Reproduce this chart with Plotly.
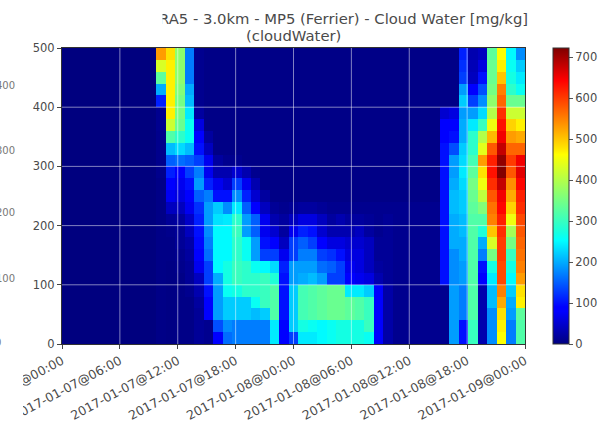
import plotly.graph_objects as go

# one list per hourly column, values from the lowest layer (0-20 m) to the highest (480-500 m)
c00 = [0]*25
c10 = [5,5,5,5,5,5,5,5,5,5,5,5,5,5,8,8,8,8,10,10,110,200,330,430,530]
c11 = [3,3,3,3,3,3,3,5,5,8,15,40,70,85,110,150,210,320,420,470,470,470,470,470,480]
c12 = [5,5,5,5,5,5,8,10,15,15,20,40,60,70,90,160,230,290,340,350,350,360,370,370,370]
c13 = [5,5,5,5,10,15,15,20,25,40,45,70,80,100,130,150,210,260,260,240,210,200,170,170,170]
c14 = [15,15,15,20,30,40,70,85,95,100,110,120,150,190,170,130,100,90,60,20,10,10,10,10,10]
c15 = [10,10,80,90,100,130,130,160,170,180,190,190,170,110,70,70,40,20,5,5,5,5,5,5,5]
c16 = [90,140,190,190,190,200,250,250,250,250,235,220,100,70,30,20,5,5,5,5,5,5,5,5,5]
c17 = [160,180,220,220,260,270,270,250,250,250,240,180,100,50,30,10,5,5,5,5,5,5,5,5,5]
c18 = [170,170,220,220,270,300,300,290,290,300,290,240,180,130,50,10,5,5,5,5,5,5,5,5,5]
c19 = [170,170,220,220,290,290,290,260,260,190,190,150,110,70,30,5,5,5,5,5,5,5,5,5,5]
c20 = [170,170,210,260,290,290,260,190,190,150,150,90,50,30,10,5,5,5,5,5,5,5,5,5,5]
c21 = [170,170,220,300,300,300,250,130,100,70,70,40,20,5,5,5,5,5,5,5,5,5,5,5,5]
c22 = [240,240,320,320,320,280,230,130,80,50,30,15,5,5,5,5,5,5,5,5,5,5,5,5,5]
c23 = [90,90,100,100,100,100,110,70,40,20,20,10,5,5,5,5,5,5,5,5,5,5,5,5,5]
c24 = [130,220,220,220,220,190,190,130,130,70,40,15,5,5,5,5,5,5,5,5,5,5,5,5,5]
c25 = [240,270,310,310,310,200,190,170,150,110,60,20,5,5,5,5,5,5,5,5,5,5,5,5,5]
c26 = [240,260,320,320,320,210,190,170,130,100,60,20,5,5,5,5,5,5,5,5,5,5,5,5,5]
c27 = [250,250,330,330,330,190,160,130,90,50,40,15,5,5,5,5,5,5,5,5,5,5,5,5,5]
c28 = [260,260,340,340,340,130,150,120,60,30,20,10,5,5,5,5,5,5,5,5,5,5,5,5,5]
c29 = [270,270,340,340,340,130,130,100,60,30,30,10,5,5,5,5,5,5,5,5,5,5,5,5,5]
c30 = [270,270,330,330,240,90,70,60,50,30,20,10,5,5,5,5,5,5,5,5,5,5,5,5,5]
c31 = [270,270,320,320,240,70,60,60,50,40,20,10,5,5,5,5,5,5,5,5,5,5,5,5,5]
c32 = [260,300,300,300,220,60,40,40,40,20,15,10,5,5,5,5,5,5,5,5,5,5,5,5,5]
c33 = [85,85,85,85,85,30,20,15,15,10,10,10,5,5,5,5,5,5,5,5,5,5,5,5,5]
c34 = [25,25,25,25,25,15,15,15,15,15,15,10,5,5,5,5,5,5,5,5,5,5,5,5,5]
c35 = [10,10,10,10,10,10,10,10,10,10,10,10,5,5,5,5,5,5,5,5,5,5,5,5,5]
c40 = [10,10,10,10,10,100,100,100,100,100,100,100,100,100,100,100,100,90,80,50,5,5,5,5,5]
c41 = [190,190,190,190,190,180,180,180,200,200,200,210,210,200,190,190,140,100,80,60,5,5,5,5,5]
c42 = [100,100,170,170,170,190,190,200,200,210,210,220,220,230,240,230,220,200,200,190,220,190,130,120,110]
c43 = [300,300,320,320,320,320,320,320,320,320,320,330,340,350,330,310,290,290,240,190,130,90,40,35,30]
c44 = [30,30,30,30,30,80,100,170,200,280,320,360,410,450,480,530,440,400,300,230,180,140,100,60,40]
c45 = [180,180,180,210,210,240,270,350,430,500,550,560,580,610,630,620,580,510,450,400,370,350,340,340,330]
c46 = [460,470,480,520,550,590,590,600,600,610,620,640,650,680,720,710,680,650,630,610,570,550,500,470,460]
c47 = [170,170,190,200,220,250,270,300,350,390,450,490,520,540,580,600,570,530,490,420,340,290,270,260,250]
c48 = [320,320,330,470,480,530,550,560,570,580,590,610,620,640,660,650,570,520,470,420,340,260,240,220,180]

columns = [c00]*10 + [c10,c11,c12,c13,c14,c15,c16,c17,c18,c19,c20,c21,c22,c23,c24,c25,c26,c27,c28,c29,
           c30,c31,c32,c33,c34,c35,c35,c35,c35,c35,c40,c41,c42,c43,c44,c45,c46,c47,c48]
z = [list(row) for row in zip(*columns)]

hour_ticks = [0, 6, 12, 18, 24, 30, 36, 42, 48]
hour_labels = ["2017-01-07@00:00", "2017-01-07@06:00", "2017-01-07@12:00", "2017-01-07@18:00",
               "2017-01-08@00:00", "2017-01-08@06:00", "2017-01-08@12:00", "2017-01-08@18:00",
               "2017-01-09@00:00"]
height_ticks = [0, 100, 200, 300, 400, 500]
cbar_ticks = [0, 100, 200, 300, 400, 500, 600, 700]
title_line1 = "RA5 - 3.0km - MP5 (Ferrier) - Cloud Water [mg/kg]"
title_line2 = "(cloudWater)"
ghost_labels = ["400", "300", "200", "100", "0"]

jet = [[0, "#00007f"], [0.11, "#0000ff"], [0.125, "#0000ff"], [0.35, "#00ffff"], [0.375, "#14ffe2"],
       [0.64, "#ffff00"], [0.66, "#ffe600"], [0.89, "#ff0000"], [0.91, "#e80000"], [1, "#7f0000"]]

W, H = 610, 424
L, R, T, B = 62, 525, 48, 344
TXT = "#4a4a4a"
FONT = "DejaVu Sans"

fig = go.Figure(go.Heatmap(
    z=z, x0=24/49, dx=48/49, y0=10, dy=20, colorscale=jet, zmin=0, zmax=722,
    colorbar=dict(x=(553-L)/(R-L), xanchor="left", y=0, yanchor="bottom", len=1, lenmode="fraction",
                  thickness=16, thicknessmode="pixels", outlinewidth=1, outlinecolor="#333",
                  tickvals=cbar_ticks, ticks="outside", ticklen=4, tickcolor="#555", tickprefix="\u2002\u2002",
                  tickfont=dict(family=FONT, size=11.5, color=TXT), xpad=0, ypad=0),
))

shapes = []
for h in hour_ticks[1:-1]:
    shapes.append(dict(type="line", xref="x", yref="y", x0=h, x1=h, y0=0, y1=500, layer="above",
                       line=dict(color="rgba(255,255,255,0.5)", width=1)))
for v in height_ticks[1:-1]:
    shapes.append(dict(type="line", xref="x", yref="y", x0=0, x1=48, y0=v, y1=v, layer="above",
                       line=dict(color="rgba(255,255,255,0.5)", width=1)))
# the reference is cropped on its left side: the first tick labels are cut there
shapes.append(dict(type="rect", xref="paper", yref="paper", layer="above",
                   x0=-L/(R-L), x1=(23-L)/(R-L), y0=-(H-B)/(B-T), y1=-0.02,
                   fillcolor="white", line=dict(width=0)))

annotations = [
    dict(text=title_line1, xref="paper", yref="paper", x=(530-L)/(R-L), y=(B-19)/(B-T), xanchor="right",
         yanchor="middle", showarrow=False, font=dict(family=FONT, size=14.8, color=TXT)),
    dict(text=title_line2, xref="paper", yref="paper", x=(293-L)/(R-L), y=(B-35)/(B-T), xanchor="center",
         yanchor="middle", showarrow=False, font=dict(family=FONT, size=14.8, color=TXT)),
    dict(text=" ", xref="paper", yref="paper", x=(163-L)/(R-L), y=(B-19)/(B-T), xanchor="right",
         yanchor="middle", showarrow=False, width=60, height=20, bgcolor="white"),
]
ghost_px = [(17, 85), (17, 150), (17, 212), (17, 278), (3, 342)]
for label, (gx, gy) in zip(ghost_labels, ghost_px):
    annotations.append(dict(text=label, xref="paper", yref="paper", x=(gx-L)/(R-L), y=(B-gy)/(B-T),
                            xanchor="right", yanchor="middle", showarrow=False, xshift=0,
                            font=dict(family=FONT, size=10, color="#777777")))

fig.update_layout(
    width=W, height=H, margin=dict(l=L, r=W-R, t=T, b=H-B, pad=0, autoexpand=False), paper_bgcolor="white",
    plot_bgcolor="#00007f", showlegend=False, shapes=shapes, annotations=annotations,
    xaxis=dict(range=[0, 48], tickvals=hour_ticks, ticktext=hour_labels, tickangle=-28, ticks="outside",
               ticklen=4, tickcolor="#444", tickfont=dict(family=FONT, size=12.5, color=TXT),
               ticklabeloverflow="allow", automargin=False,
               showgrid=False, zeroline=False, showline=True, linecolor="#333", linewidth=1, mirror=True),
    yaxis=dict(range=[0, 500], tickvals=height_ticks, ticks="outside", ticklen=4, tickcolor="#444",
               tickfont=dict(family=FONT, size=11.5, color=TXT), showgrid=False, zeroline=False, automargin=False,
               showline=True, linecolor="#333", linewidth=1, mirror=True),
)
fig.write_html("out.html", config={"displayModeBar": False}, post_script="document.body.style.margin='0';")
